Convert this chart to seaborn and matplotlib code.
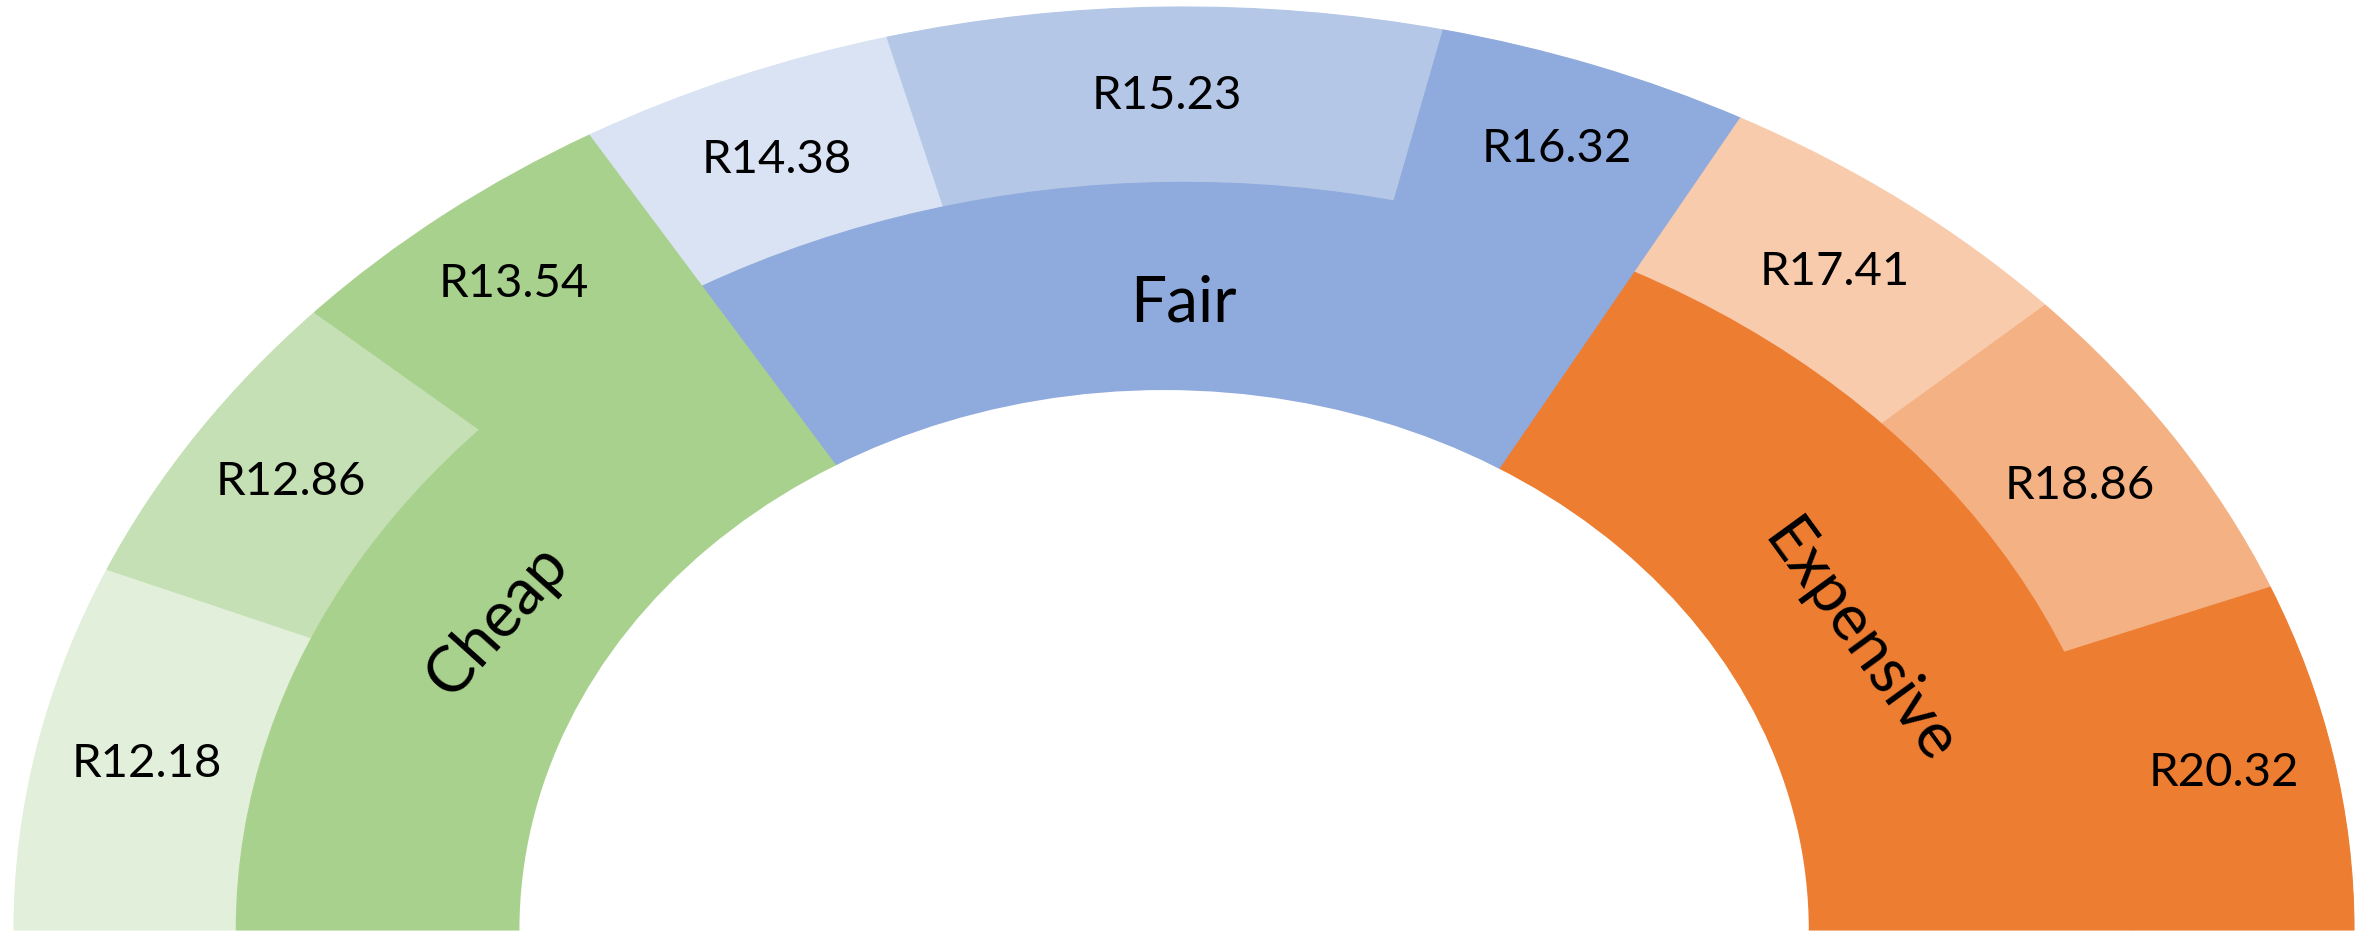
import numpy as np
import matplotlib
matplotlib.use("Agg")
import matplotlib.pyplot as plt
from matplotlib.patches import Ellipse
import seaborn as sns

# ---- data ----
categories = ["Cheap", "Fair", "Expensive"]
category_shares = [59.5, 58.9, 61.6]          # degrees of the half circle
price_labels = ["R12.18", "R12.86", "R13.54", "R14.38", "R15.23",
                "R16.32", "R17.41", "R18.86", "R20.32"]
price_shares = [23.0, 19.0, 17.5, 15.8, 27.5, 15.6, 19.0, 20.8, 21.8]

category_colors = ["#A9D18E", "#8FAADC", "#ED7D31"]
price_colors = ["#E2EFDA", "#C5E0B4", "#A9D18E",
                "#DAE3F3", "#B4C7E7", "#8FAADC",
                "#F8CBAD", "#F4B183", "#ED7D31"]

sns.set_theme(style="white")
plt.rcParams["font.family"] = ["Lato", "DejaVu Sans"]

W, H, DPI = 2374, 937, 100
fig = plt.figure(figsize=(W / DPI, H / DPI), dpi=DPI)
ax = fig.add_axes([0, 0, 1, 1])

R_OUT, R_MID, R_IN = 1.0, 0.81, 0.50

hidden_outer = sum(price_shares)
hidden_inner = sum(category_shares)

outer_w, _ = ax.pie(price_shares + [hidden_outer], radius=R_OUT,
                    startangle=180, counterclock=False,
                    colors=price_colors + ["none"],
                    wedgeprops=dict(width=R_OUT - R_MID, linewidth=0.8))
inner_w, _ = ax.pie(category_shares + [hidden_inner], radius=R_MID,
                    startangle=180, counterclock=False,
                    colors=category_colors + ["none"],
                    wedgeprops=dict(width=R_MID - R_IN, linewidth=0.8))
for w in outer_w[:-1] + inner_w[:-1]:
    w.set_edgecolor(w.get_facecolor())
for w in (outer_w[-1], inner_w[-1]):
    w.set_edgecolor("none")

# doughnut hole (slightly narrower than tall in the reference)
ax.add_patch(Ellipse((-0.017, 0.0), 2 * 0.551, 2 * 0.585,
                     facecolor="white", edgecolor="none", zorder=3))

# pixel mapping: center at (1184, 931) px, radii 1170 px (x) and 923 px (y)
cx, cy, rx, ry = 1184, 931, 1170, 923
ax.set_aspect("auto")
ax.set_xlim(-cx / rx, (W - cx) / rx)
ax.set_ylim(-(H - cy) / ry, cy / ry)
ax.axis("off")

r_lab_out = (R_OUT + R_MID) / 2
for w, lab in zip(outer_w[:-1], price_labels):
    th = np.deg2rad((w.theta1 + w.theta2) / 2)
    ax.text(r_lab_out * np.cos(th), r_lab_out * np.sin(th), lab,
            ha="center", va="center", fontsize=34, color="black", zorder=5)

cat_rot = [48, 0, -54]
cat_r = [0.676, 0.68, 0.656]
cat_dth = [0.0, -1.0, -2.4]
for w, lab, rot, rr, dth in zip(inner_w[:-1], categories, cat_rot, cat_r, cat_dth):
    th = np.deg2rad((w.theta1 + w.theta2) / 2 + dth)
    ax.text(rr * np.cos(th), rr * np.sin(th), lab,
            ha="center", va="center", fontsize=46, rotation=rot,
            rotation_mode="anchor", color="black", zorder=5)

fig.savefig("out.png", dpi=DPI, facecolor="white")
